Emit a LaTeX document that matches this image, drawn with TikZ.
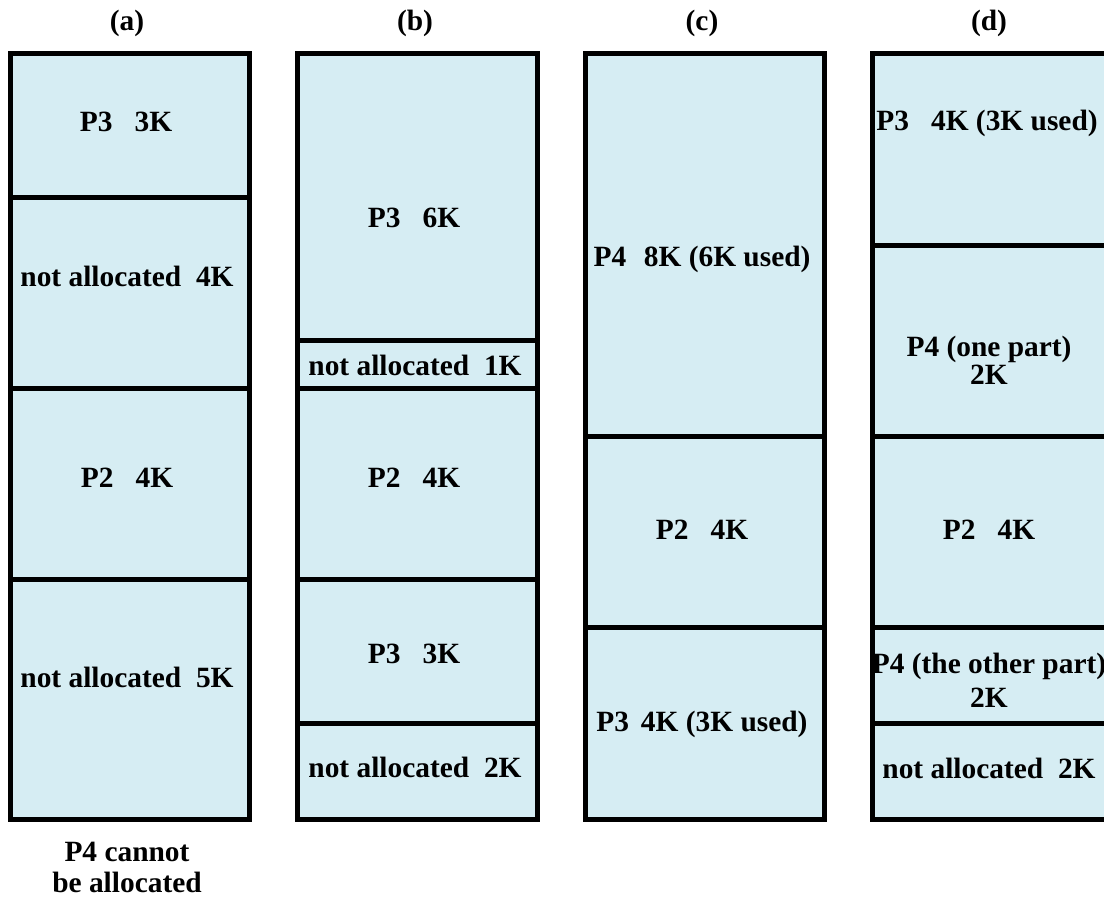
\documentclass[tikz,border=0pt]{standalone}
\usepackage{fontspec}
\setmainfont{Liberation Serif}
\definecolor{memfill}{RGB}{214,237,243}
\tikzset{
  seg/.style={draw=black,line width=2.5pt,fill=memfill},
  lbl/.style={font=\fontsize{14.7}{13.8}\selectfont\bfseries,align=center,inner sep=0pt,anchor=base},
  lbltwo/.style={lbl,anchor=center},
}
\begin{document}
\begin{tikzpicture}[x=0.5pt,y=-0.5pt]
\useasboundingbox (0,0) rectangle (1104,903);
% column titles
\node[lbl] (ta) at (127,31) {(a)};
\node[lbl] (tb) at (415,31) {(b)};
\node[lbl] (tc) at (702,31) {(c)};
\node[lbl] (td) at (989,31) {(d)};
% (a)
\draw[seg] (10,54) rectangle (249.5,197.4);
\draw[seg] (10,197.4) rectangle (249.5,388.7);
\draw[seg] (10,388.7) rectangle (249.5,579.9);
\draw[seg] (10,579.9) rectangle (249.5,819);
\node[lbl] (a1) at (126,132) {P3\hspace{0.75em}3K};
\node[lbl] (a2) at (127,287) {not allocated\ \ 4K};
\node[lbl] (a3) at (127,488) {P2\hspace{0.75em}4K};
\node[lbl] (a4) at (127,688) {not allocated\ \ 5K};
\node[lbltwo] (a5) at (127,867.5) {P4 cannot\\[2pt] be allocated};
% (b)
\draw[seg] (297.5,54) rectangle (537,340.9);
\draw[seg] (297.5,340.9) rectangle (537,388.7);
\draw[seg] (297.5,388.7) rectangle (537,579.9);
\draw[seg] (297.5,579.9) rectangle (537,723.4);
\draw[seg] (297.5,723.4) rectangle (537,819);
\node[lbl] (b1) at (414,228) {P3\hspace{0.75em}6K};
\node[lbl] (b2) at (415,376) {not allocated\ \ 1K};
\node[lbl] (b3) at (414,488) {P2\hspace{0.75em}4K};
\node[lbl] (b4) at (414,664) {P3\hspace{0.75em}3K};
\node[lbl] (b5) at (415,777) {not allocated\ \ 2K};
% (c)
\draw[seg] (585,54) rectangle (824,436.5);
\draw[seg] (585,436.5) rectangle (824,627.8);
\draw[seg] (585,627.8) rectangle (824,819);
\node[lbl] (c1) at (702,267) {P4\hspace{0.6em}8K (6K used)};
\node[lbl] (c2) at (702,540) {P2\hspace{0.75em}4K};
\node[lbl] (c3) at (702,731) {P3\hspace{0.4em}4K (3K used)};
% (d)
\draw[seg] (872.5,54) rectangle (1112,245.3);
\draw[seg] (872.5,245.3) rectangle (1112,436.5);
\draw[seg] (872.5,436.5) rectangle (1112,627.8);
\draw[seg] (872.5,627.8) rectangle (1112,723.4);
\draw[seg] (872.5,723.4) rectangle (1112,819);
\node[lbl] (d1) at (987,131) {P3\hspace{0.75em}4K (3K used)};
\node[lbltwo] (d2) at (989,360.5) {P4 (one part)\\ 2K};
\node[lbl] (d3) at (989,540) {P2\hspace{0.75em}4K};
\node[lbltwo] (d4) at (989,680) {P4 (the other part)\\[3pt] 2K};
\node[lbl] (d5) at (989,778) {not allocated\ \ 2K};
\end{tikzpicture}
\end{document}
